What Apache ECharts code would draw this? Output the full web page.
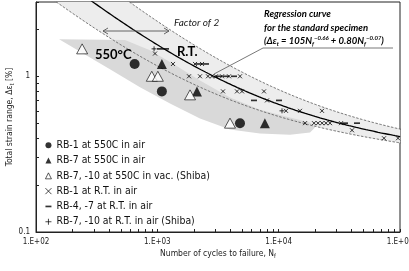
<!DOCTYPE html>
<html><head><meta charset="utf-8">
<script src="https://cdn.jsdelivr.net/npm/echarts@6/dist/echarts.min.js"></script>
<style>html,body{margin:0;padding:0;background:#fff}#c{width:409px;height:271px}</style>
</head><body><div id="c"></div>
<script>
// ---------- data ----------
const xLabelTicks = [100, 1000, 10000, 100000];
const xAllTicks = [100,200,300,400,500,600,700,800,900,1000,2000,3000,4000,5000,6000,7000,8000,9000,
  10000,20000,30000,40000,50000,60000,70000,80000,90000,100000];
const yLabelTicks = [0.1, 1];
const yAllTicks = [0.1,0.2,0.3,0.4,0.5,0.6,0.7,0.8,0.9,1,2,3];

const names = [
  'RB-1 at 550C in air',
  'RB-7 at 550C in air',
  'RB-7, -10 at 550C in vac. (Shiba)',
  'RB-1 at R.T. in air',
  'RB-4, -7 at R.T. in air',
  'RB-7, -10 at R.T. in air (Shiba)'
];
// RB-1 at 550C in air (filled circles)
const rb1HotN = [650, 1090, 4800];
const rb1HotE = [1.2, 0.8, 0.5];
// RB-7 at 550C in air (filled triangles)
const rb7HotN = [1090, 2120, 7700];
const rb7HotE = [1.2, 0.8, 0.5];
// RB-7,-10 at 550C in vacuum (open triangles)
const rb7VacN = [240, 900, 1010, 1860, 3970];
const rb7VacE = [1.5, 1.0, 1.0, 0.76, 0.5];
// RB-1 at R.T. in air (x)
const rb1RtN = [957, 1346, 2044, 2335, 1824, 2247, 2616, 2822, 3045, 3412, 3896, 4800,
  3478, 4536, 4986, 7570, 8014, 11494, 14995, 22761,
  16489, 19557, 21100, 22800, 24560, 26500, 32650, 40230, 73840, 96300];
const rb1RtE = [1.4, 1.2, 1.2, 1.2, 1.0, 1.0, 1.0, 1.0, 1.0, 1.0, 1.0, 1.0,
  0.8, 0.8, 0.8, 0.8, 0.7, 0.6, 0.6, 0.6,
  0.5, 0.5, 0.5, 0.5, 0.5, 0.5, 0.5, 0.45, 0.4, 0.4];
// RB-4,-7 at R.T. in air (-)
const rb4RtN = [1052, 1179, 2205, 2518, 3223, 3681, 4284, 6261, 10065, 35220, 44220];
const rb4RtE = [1.5, 1.5, 1.2, 1.2, 1.0, 1.0, 1.0, 0.7, 0.7, 0.5, 0.5];
// RB-7,-10 at R.T. in air (+)
const rb7RtN = [940, 10654];
const rb7RtE = [1.5, 0.6];

// regression curve for the standard specimen: de = 105 N^-0.66 + 0.80 N^-0.07
const regA = 105, regB = -0.66, regC = 0.80, regD = -0.07;
const lifeFactor = 2;

// 550C scatter band outline
const hotBandN = [155, 541, 870, 1398, 2247, 3972, 7019, 12400, 18130, 19930,
  18130, 12400, 7019, 3972, 2247, 1272, 720, 407];
const hotBandE = [1.73, 1.71, 1.47, 1.18, 0.94, 0.73, 0.61, 0.544, 0.505, 0.469,
  0.435, 0.422, 0.429, 0.455, 0.536, 0.669, 0.849, 1.11];

// ---------- build ----------
const zip = (a, b) => a.map((v, i) => [v, b[i]]);
const reg = n => regA * Math.pow(n, regB) + regC * Math.pow(n, regD);
const curveN = [];
for (let k = 0; k <= 200; k++) curveN.push(Math.pow(10, 1.5 + k * 4 / 200));
const regLine = curveN.filter(n => n >= 100 && n <= 100000).map(n => [n, reg(n)]);
const upLine = curveN.map(n => [n * lifeFactor, reg(n)]);
const lowLine = curveN.map(n => [n / lifeFactor, reg(n)]);
const lightPoly = upLine.concat(lowLine.slice().reverse());
const hotPoly = zip(hotBandN, hotBandE);

const polySeries = (pts, fill, z) => ({
  type: 'custom', clip: true, silent: true, z: z,
  data: [[1000, 1]],
  renderItem: (params, api) => ({
    type: 'polygon',
    shape: { points: pts.map(p => api.coord(p)) },
    style: { fill: fill }
  })
});

const FONT = "'DejaVu Sans Condensed','DejaVu Sans',sans-serif";
const CAL = "Lato,'Noto Sans',sans-serif";
const xPath = 'path://M0,0 L10,10 M10,0 L0,10';
const plusPath = 'path://M5,0 L5,10 M0,5 L10,5';
const dashPath = 'path://M0,0 M10,10 M0,3.6 L10,3.6 L10,6.4 L0,6.4 Z';
const stroke = { color: 'rgba(0,0,0,0)', borderColor: '#000', borderWidth: 1 };

const chart = echarts.init(document.getElementById('c'));
chart.setOption({
  animation: false,
  backgroundColor: '#fff',
  grid: { left: 36, right: 9, top: 2, bottom: 39, show: true, borderColor: '#222', borderWidth: 1,
    backgroundColor: 'transparent', containLabel: false, outerBoundsMode: 'none' },
  xAxis: {
    type: 'log', logBase: 10, min: 100, max: 100000,
    name: 'Number of cycles to failure, N{s|f}', nameLocation: 'middle', nameGap: 17, nameMoveOverlap: false,
    nameTextStyle: { fontFamily: FONT, fontSize: 8.5, color: '#222', rich: { s: { fontFamily: FONT, fontSize: 6, verticalAlign: 'bottom', padding: [4, 0, 0, 0] } } },
    axisLine: { lineStyle: { color: '#222', width: 1 } },
    axisTick: { inside: true, length: 3, customValues: xAllTicks, lineStyle: { color: '#222' } },
    axisLabel: { customValues: xLabelTicks, margin: 6, fontFamily: FONT, fontSize: 8, color: '#222',
      formatter: v => '1.E+0' + Math.round(Math.log10(v)) },
    splitLine: { show: false }, minorTick: { show: false }
  },
  yAxis: {
    type: 'log', logBase: 10, min: 0.1, max: 3,
    name: 'Total strain range, Δε{s|t} [%]', nameLocation: 'middle', nameGap: 21, nameRotate: 90, nameMoveOverlap: false,
    nameTextStyle: { fontFamily: FONT, fontSize: 8.5, color: '#222', rich: { s: { fontFamily: FONT, fontSize: 6, verticalAlign: 'bottom', padding: [4, 0, 0, 0] } } },
    axisLine: { lineStyle: { color: '#222', width: 1 } },
    axisTick: { inside: true, length: 3, customValues: yAllTicks, lineStyle: { color: '#222' } },
    axisLabel: { customValues: yLabelTicks, margin: 6, fontFamily: FONT, fontSize: 8, color: '#222',
      formatter: v => (Math.round(Math.log10(v)) < 0 ? '0.1' : '1') },
    splitLine: { show: false }, minorTick: { show: false }
  },
  legend: {
    orient: 'vertical', left: 40, top: 134, itemGap: 2.8, itemWidth: 6, itemHeight: 6,
    textStyle: { fontFamily: FONT, fontSize: 10.4, color: '#111', lineHeight: 12.5 },
    data: [
      { name: names[0], icon: 'circle', itemStyle: { color: '#000', borderWidth: 0 } },
      { name: names[1], icon: 'triangle', itemStyle: { color: '#000', borderWidth: 0 } },
      { name: names[2], icon: 'triangle', itemStyle: { color: '#fff', borderColor: '#000', borderWidth: 0.8 } },
      { name: names[3], icon: xPath, itemStyle: { color: 'rgba(0,0,0,0)', borderColor: '#000', borderWidth: 0.9 } },
      { name: names[4], icon: dashPath, itemStyle: { color: '#000', borderWidth: 0 } },
      { name: names[5], icon: plusPath, itemStyle: { color: 'rgba(0,0,0,0)', borderColor: '#000', borderWidth: 0.9 } }
    ]
  },
  series: [
    polySeries(lightPoly, '#ededed', 1),
    polySeries(hotPoly, '#d9d9d9', 2),
    { type: 'line', data: upLine, showSymbol: false, silent: true, z: 3,
      lineStyle: { color: '#555', width: 0.8, type: [2.5, 1.5] } },
    { type: 'line', data: lowLine, showSymbol: false, silent: true, z: 3,
      lineStyle: { color: '#555', width: 0.8, type: [2.5, 1.5] } },
    { type: 'line', data: regLine, showSymbol: false, silent: true, z: 4,
      lineStyle: { color: '#000', width: 1.3 } },
    { name: names[0], type: 'scatter', z: 6, data: zip(rb1HotN, rb1HotE), symbol: 'circle', symbolSize: 10, itemStyle: { color: '#000' } },
    { name: names[1], type: 'scatter', z: 6, data: zip(rb7HotN, rb7HotE), symbol: 'triangle', symbolSize: [10, 10], itemStyle: { color: '#000' } },
    { name: names[2], type: 'scatter', z: 6, data: zip(rb7VacN, rb7VacE), symbol: 'triangle', symbolSize: [11, 10], itemStyle: { color: '#fff', borderColor: '#000', borderWidth: 0.8 } },
    { name: names[3], type: 'scatter', z: 5, data: zip(rb1RtN, rb1RtE), symbol: xPath, symbolSize: 4, itemStyle: stroke },
    { name: names[4], type: 'scatter', z: 5, data: zip(rb4RtN, rb4RtE), symbol: dashPath, symbolSize: 6, itemStyle: { color: '#000' } },
    { name: names[5], type: 'scatter', z: 5, data: zip(rb7RtN, rb7RtE), symbol: plusPath, symbolSize: 5, itemStyle: stroke }
  ],
  graphic: [
    { type: 'text', x: 95, y: 55, z: 20, style: { text: '550°C', font: 'bold 13px ' + CAL, fill: '#000', verticalAlign: 'middle' } },
    { type: 'text', x: 177, y: 52, z: 20, style: { text: 'R.T.', font: 'bold 13px ' + CAL, fill: '#000', verticalAlign: 'middle' } },
    { type: 'text', x: 174, y: 23, z: 20, style: { text: 'Factor of 2', font: 'italic 10px ' + CAL, fill: '#222', verticalAlign: 'middle' } },
    { type: 'text', x: 264, y: 14, z: 20, style: { text: 'Regression curve', font: 'italic bold 9.5px ' + CAL, fill: '#000', verticalAlign: 'middle' } },
    { type: 'text', x: 264, y: 27.5, z: 20, style: { text: 'for the standard specimen', font: 'italic bold 9.5px ' + CAL, fill: '#000', verticalAlign: 'middle' } },
    { type: 'text', x: 264, y: 41, z: 20, style: {
      text: '{b|(Δε}{s|t}{b| = 105N}{s|f}{p|−0.66}{b| + 0.80N}{s|f}{p|−0.07}{b|)}',
      verticalAlign: 'middle',
      rich: {
        b: { font: 'italic bold 9.5px ' + CAL, fill: '#000', lineHeight: 12, verticalAlign: 'middle' },
        s: { font: 'italic bold 6px ' + CAL, fill: '#000', lineHeight: 12, verticalAlign: 'bottom' },
        p: { font: 'italic bold 6px ' + CAL, fill: '#000', lineHeight: 12, verticalAlign: 'top' }
      } } },
    { type: 'polyline', z: 20, shape: { points: [[214, 74], [263, 48], [393, 48]] }, style: { stroke: '#555', lineWidth: 0.8, fill: null } },
    { type: 'polyline', z: 20, shape: { points: [[103, 31], [169, 31]] }, style: { stroke: '#555', lineWidth: 0.9, fill: null } },
    { type: 'polyline', z: 20, shape: { points: [[108, 28], [103, 31], [108, 34]] }, style: { stroke: '#555', lineWidth: 0.9, fill: null } },
    { type: 'polyline', z: 20, shape: { points: [[164, 28], [169, 31], [164, 34]] }, style: { stroke: '#555', lineWidth: 0.9, fill: null } }
  ]
});
</script></body></html>
